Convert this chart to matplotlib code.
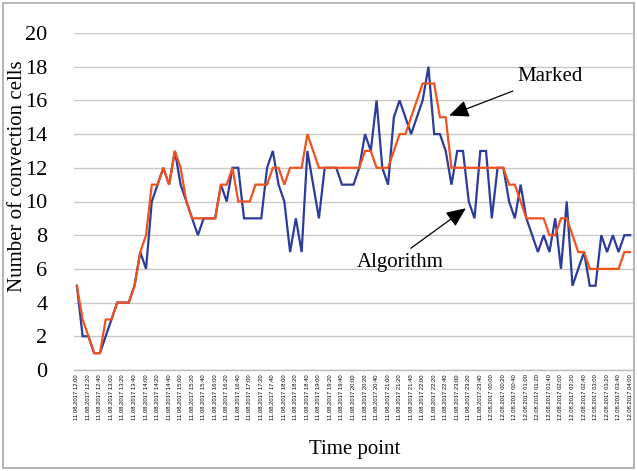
import matplotlib
matplotlib.use("Agg")
import matplotlib.pyplot as plt
from matplotlib.patches import Rectangle

# Number of convection cells every 10 minutes, 11.08.2017 12:00 -> 12.08.2017 04:00
algorithm = [5, 2, 2, 1, 1, 2, 3, 4, 4, 4, 5, 7, 6, 10, 11, 12, 11, 13, 11, 10,
             9, 8, 9, 9, 9, 11, 10, 12, 12, 9, 9, 9, 9, 12, 13, 11, 10, 7, 9, 7,
             13, 11, 9, 12, 12, 12, 11, 11, 11, 12, 14, 13, 16, 12, 11, 15, 16, 15, 14, 15,
             16, 18, 14, 14, 13, 11, 13, 13, 10, 9, 13, 13, 9, 12, 12, 10, 9, 11, 9, 8,
             7, 8, 7, 9, 6, 10, 5, 6, 7, 5, 5, 8, 7, 8, 7, 8, 8]
marked = [5, 3, 2, 1, 1, 3, 3, 4, 4, 4, 5, 7, 8, 11, 11, 12, 11, 13, 12, 10,
          9, 9, 9, 9, 9, 11, 11, 12, 10, 10, 10, 11, 11, 11, 12, 12, 11, 12, 12, 12,
          14, 13, 12, 12, 12, 12, 12, 12, 12, 12, 13, 13, 12, 12, 12, 13, 14, 14, 15, 16,
          17, 17, 17, 15, 15, 12, 12, 12, 12, 12, 12, 12, 12, 12, 12, 11, 11, 10, 9, 9,
          9, 9, 8, 8, 9, 9, 8, 7, 7, 6, 6, 6, 6, 6, 6, 7, 7]

tick_labels = [
    "11.08.2017 12:00", "11.08.2017 12:20", "11.08.2017 12:40", "11.08.2017 13:00",
    "11.08.2017 13:20", "11.08.2017 13:40", "11.08.2017 14:00", "11.08.2017 14:20",
    "11.08.2017 14:40", "11.08.2017 15:00", "11.08.2017 15:20", "11.08.2017 15:40",
    "11.08.2017 16:00", "11.08.2017 16:20", "11.08.2017 16:40", "11.08.2017 17:00",
    "11.08.2017 17:20", "11.08.2017 17:40", "11.08.2017 18:00", "11.08.2017 18:20",
    "11.08.2017 18:40", "11.08.2017 19:00", "11.08.2017 19:20", "11.08.2017 19:40",
    "11.08.2017 20:00", "11.08.2017 20:20", "11.08.2017 20:40", "11.08.2017 21:00",
    "11.08.2017 21:20", "11.08.2017 21:40", "11.08.2017 22:00", "11.08.2017 22:20",
    "11.08.2017 22:40", "11.08.2017 23:00", "11.08.2017 23:20", "11.08.2017 23:40",
    "12.08.2017 00:00", "12.08.2017 00:20", "12.08.2017 00:40", "12.08.2017 01:00",
    "12.08.2017 01:20", "12.08.2017 01:40", "12.08.2017 02:00", "12.08.2017 02:20",
    "12.08.2017 02:40", "12.08.2017 03:00", "12.08.2017 03:20", "12.08.2017 03:40",
    "12.08.2017 04:00",
]
y_ticks = [0, 2, 4, 6, 8, 10, 12, 14, 16, 18, 20]

serif = ["Liberation Serif", "DejaVu Serif"]
blue = "#2B3C9B"
orange = "#F0521E"

fig = plt.figure(figsize=(6.37, 4.71), dpi=100)
ax = fig.add_axes([74 / 637, 101 / 471, 559 / 637, 337 / 471])

x = list(range(len(algorithm)))
ax.plot(x, algorithm, color=blue, lw=1.6, zorder=3, solid_joinstyle="miter")
ax.plot(x, marked, color=orange, lw=1.6, zorder=4, solid_joinstyle="miter")

ax.set_xlim(-0.5, len(algorithm) - 0.5)
ax.set_ylim(0, 20)
ax.set_yticks(y_ticks)
ax.set_yticklabels([str(v) for v in y_ticks], fontfamily=serif, fontsize=16)
ax.set_xticks(list(range(0, len(algorithm), 2)))
ax.set_xticklabels(tick_labels, rotation=90, fontsize=4.2,
                   fontfamily=["Liberation Sans", "DejaVu Sans"])
ax.tick_params(axis="x", length=0, pad=3)
ax.tick_params(axis="y", length=0, pad=19)
ax.grid(axis="y", color="#C8C8C8", lw=1.0, zorder=0)
for s in ["left", "right", "top"]:
    ax.spines[s].set_visible(False)
ax.spines["bottom"].set_color("#BDBDBD")
ax.spines["bottom"].set_linewidth(1.0)

ax.set_xlabel("Time point", fontfamily=serif, fontsize=15)
ax.xaxis.set_label_coords((355 - 74) / 559, (370 - 440) / 337)
ax.set_ylabel("Number of convection cells", fontfamily=serif, fontsize=15)
ax.yaxis.set_label_coords((27 - 74) / 559, (370 - 176) / 337)

ax.annotate("Marked", xy=(64.6, 15.1), xytext=(76.4, 17.4),
            fontfamily=serif, fontsize=15, va="center", ha="left",
            arrowprops=dict(arrowstyle="-|>,head_length=0.8,head_width=0.35",
                            color="black", lw=0.9, shrinkA=4, shrinkB=0))
ax.annotate("Algorithm", xy=(67.5, 9.6), xytext=(48.6, 6.4),
            fontfamily=serif, fontsize=15, va="center", ha="left",
            arrowprops=dict(arrowstyle="-|>,head_length=0.8,head_width=0.35",
                            color="black", lw=0.9, shrinkA=2, shrinkB=0,
                            relpos=(0.55, 1.0)))

fig.patches.append(Rectangle((3 / 637, 3 / 471), 631 / 637, 465 / 471,
                             transform=fig.transFigure, fill=False,
                             edgecolor="#A8A8A8", lw=1.2))

fig.savefig("out.png", dpi=100)
